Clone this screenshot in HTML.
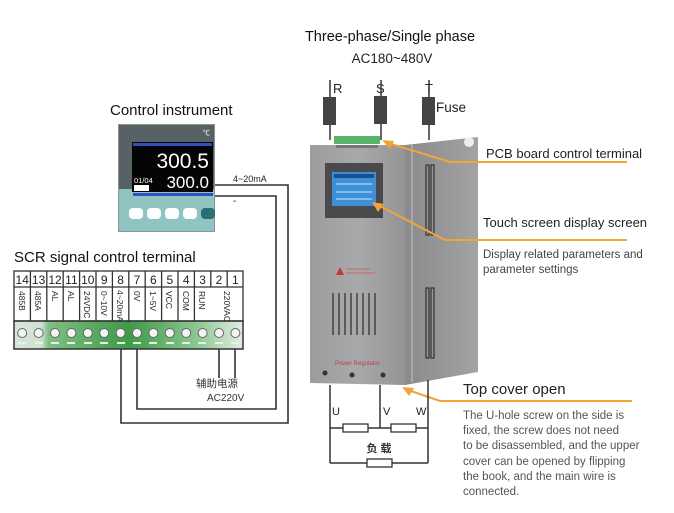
<!DOCTYPE html>
<html><head><meta charset="utf-8"><style>
html,body{margin:0;padding:0;background:#fff}
svg{display:block}
text{font-family:"Liberation Sans","Noto Sans CJK SC",sans-serif}
</style></head><body>
<svg width="674" height="513" viewBox="0 0 674 513" xmlns="http://www.w3.org/2000/svg">
<defs>
<linearGradient id="fr" x1="0" x2="1" y1="0" y2="0"><stop offset="0" stop-color="#9c9c9e"/><stop offset="0.5" stop-color="#a9a9ab"/><stop offset="1" stop-color="#949496"/></linearGradient>
<linearGradient id="sd" x1="0" x2="1"><stop offset="0" stop-color="#8a8a8c"/><stop offset="1" stop-color="#a3a3a5"/></linearGradient>
<linearGradient id="gr" x1="0" x2="1"><stop offset="0" stop-color="#d9e4da"/><stop offset="0.12" stop-color="#cfe0d0"/><stop offset="0.15" stop-color="#7fbe84"/><stop offset="0.5" stop-color="#3e9a48"/><stop offset="0.8" stop-color="#8cc792"/><stop offset="1" stop-color="#e2ece3"/></linearGradient>
</defs>

<!-- top titles -->
<text x="390" y="41" font-size="14.5" text-anchor="middle" fill="#111">Three-phase/Single phase</text>
<text x="392" y="63" font-size="13.5" text-anchor="middle" fill="#222">AC180~480V</text>
<text x="333" y="93" font-size="13" fill="#222">R</text>
<text x="376" y="93" font-size="13" fill="#222">S</text>
<text x="425" y="93" font-size="13" fill="#222">T</text>
<text x="436" y="112" font-size="13.5" fill="#222">Fuse</text>
<g stroke="#333" stroke-width="1.5">
<line x1="330" y1="80" x2="330" y2="140"/><line x1="381" y1="80" x2="381" y2="140"/><line x1="429" y1="80" x2="429" y2="140"/>
</g>
<rect x="323" y="97" width="13" height="28" fill="#444"/>
<rect x="374" y="96" width="13" height="28" fill="#444"/>
<rect x="422" y="97" width="13" height="28" fill="#444"/>

<!-- device side -->
<polygon points="405,145 478,137 478,372 405,385" fill="url(#sd)"/>
<circle cx="469" cy="142" r="5" fill="#eee"/>
<line x1="412" y1="144" x2="412" y2="382" stroke="#c5c5c7" stroke-width="1"/>
<g fill="none" stroke="#333" stroke-width="1.2">
<rect x="426" y="165" width="3" height="70"/><rect x="431" y="165" width="3" height="70"/>
<rect x="426" y="288" width="3" height="70"/><rect x="431" y="288" width="3" height="70"/>
</g>
<!-- front -->
<polygon points="310,145 405,145 405,385 310,383" fill="url(#fr)"/>
<rect x="334" y="136" width="46" height="8" fill="#5bb36a"/>
<rect x="336" y="145" width="42" height="3" fill="#777"/>
<rect x="325" y="163" width="58" height="55" fill="#4a4a4c"/>
<rect x="332" y="172" width="44" height="34" fill="#3d8fd8"/>
<rect x="334" y="174" width="40" height="4" fill="#1c4f8c"/>
<g stroke="#cfe6ff" stroke-width="1"><line x1="336" y1="184" x2="372" y2="184"/><line x1="336" y1="192" x2="372" y2="192"/><line x1="336" y1="199" x2="372" y2="199"/></g>
<polygon points="336,275 340,267 344,275" fill="#c33"/>
<g stroke="#c66" stroke-width="1"><line x1="346" y1="269" x2="370" y2="269"/><line x1="346" y1="273" x2="375" y2="273"/></g>
<g stroke="#333" stroke-width="1.3">
<line x1="333" y1="293" x2="333" y2="335"/><line x1="339" y1="293" x2="339" y2="335"/><line x1="345" y1="293" x2="345" y2="335"/><line x1="351" y1="293" x2="351" y2="335"/><line x1="357" y1="293" x2="357" y2="335"/><line x1="363" y1="293" x2="363" y2="335"/><line x1="369" y1="293" x2="369" y2="335"/><line x1="375" y1="293" x2="375" y2="335"/>
</g>
<text x="335" y="365" font-size="6" fill="#b44">Power Regulator</text>
<circle cx="325" cy="373" r="2.5" fill="#333"/><circle cx="352" cy="375" r="2.5" fill="#333"/><circle cx="383" cy="375" r="2.5" fill="#333"/>

<!-- orange callouts -->
<g fill="none" stroke="#f0a43a" stroke-width="2">
<polyline points="388,143 450,162 627,162"/>
<polyline points="378,205 445,240 627,240"/>
<polyline points="408,390 440,401 632,401"/>
</g>
<polygon points="382,140 394,141 390,149" fill="#f0a43a"/>
<polygon points="372,202 384,204 378,212" fill="#f0a43a"/>
<polygon points="402,387 414,388 409,396" fill="#f0a43a"/>
<text x="486" y="158" font-size="13" fill="#222">PCB board control terminal</text>
<text x="483" y="227" font-size="13" fill="#222">Touch screen display screen</text>
<text x="483" y="258" font-size="11.5" fill="#444">Display related parameters and</text>
<text x="483" y="273" font-size="11.5" fill="#444">parameter settings</text>
<text x="463" y="394" font-size="15" fill="#222">Top cover open</text>
<g font-size="11.5" fill="#555">
<text x="463" y="419">The U-hole screw on the side is</text>
<text x="463" y="434">fixed, the screw does not need</text>
<text x="463" y="449">to be disassembled, and the upper</text>
<text x="463" y="465">cover can be opened by flipping</text>
<text x="463" y="480">the book, and the main wire is</text>
<text x="463" y="495">connected.</text>
</g>

<!-- load circuit -->
<g stroke="#333" stroke-width="1.5" fill="none">
<line x1="330" y1="385" x2="330" y2="463"/>
<line x1="380" y1="385" x2="380" y2="428"/>
<line x1="428" y1="380" x2="428" y2="463"/>
<line x1="330" y1="428" x2="428" y2="428"/>
<line x1="330" y1="463" x2="428" y2="463"/>
</g>
<g stroke="#333" stroke-width="1.3" fill="#fff">
<rect x="343" y="424" width="25" height="8"/><rect x="391" y="424" width="25" height="8"/><rect x="367" y="459" width="25" height="8"/>
</g>
<text x="332" y="415" font-size="11" fill="#222">U</text>
<text x="383" y="415" font-size="11" fill="#222">V</text>
<text x="416" y="415" font-size="11" fill="#222">W</text>
<text x="379" y="452" font-size="11" font-weight="bold" text-anchor="middle" fill="#333">负 载</text>

<!-- control instrument -->
<text x="110" y="115" font-size="15" fill="#111">Control instrument</text>
<rect x="118" y="124" width="97" height="108" fill="#8a9496"/>
<rect x="119" y="125" width="95" height="64" fill="#586264"/>
<rect x="119" y="189" width="95" height="42" fill="#8fc4c0"/>
<text x="210" y="135" font-size="7" fill="#fff" text-anchor="end">℃</text>
<rect x="132" y="142" width="81" height="50" fill="#050505"/>
<rect x="133" y="143" width="79" height="3" fill="#3050c0"/>
<text x="209" y="168" font-size="21" fill="#fff" text-anchor="end">300.5</text>
<text x="209" y="188" font-size="17" fill="#fff" text-anchor="end">300.0</text>
<text x="134" y="183" font-size="7.5" fill="#fff">01/04</text>
<rect x="134" y="185" width="15" height="6" fill="#fff"/>
<rect x="133" y="193" width="80" height="3" fill="#3050c0"/>
<g fill="#fff">
<rect x="129" y="208" width="14" height="11" rx="4"/><rect x="147" y="208" width="14" height="11" rx="4"/><rect x="165" y="208" width="14" height="11" rx="4"/><rect x="183" y="208" width="14" height="11" rx="4"/>
</g>
<rect x="201" y="208" width="14" height="11" rx="4" fill="#2a6e76"/>
<text x="233" y="182" font-size="9" fill="#222">4~20mA</text>
<text x="233" y="204" font-size="10" fill="#222">-</text>

<!-- wires -->
<g stroke="#333" stroke-width="1.6" fill="none">
<polyline points="215,185 288,185 288,423 121,423 121,333"/>
<polyline points="215,196 276,196 276,409 137,409 137,333"/>
<line x1="219" y1="333" x2="219" y2="378"/>
<line x1="235" y1="333" x2="235" y2="378"/>
</g>

<!-- terminal block -->
<text x="14" y="262" font-size="15" fill="#111">SCR signal control terminal</text>
<rect x="14" y="321" width="229" height="28" fill="url(#gr)" stroke="#333" stroke-width="1.5"/>
<g fill="#f4f4f4" stroke="#666" stroke-width="1">
<circle cx="22.2" cy="333" r="4.5"/><circle cx="38.6" cy="333" r="4.5"/><circle cx="55" cy="333" r="4.5"/><circle cx="71.4" cy="333" r="4.5"/><circle cx="87.8" cy="333" r="4.5"/><circle cx="104.2" cy="333" r="4.5"/><circle cx="120.6" cy="333" r="4.5"/><circle cx="137" cy="333" r="4.5"/><circle cx="153.4" cy="333" r="4.5"/><circle cx="169.8" cy="333" r="4.5"/><circle cx="186.2" cy="333" r="4.5"/><circle cx="202.6" cy="333" r="4.5"/><circle cx="219" cy="333" r="4.5"/><circle cx="235.4" cy="333" r="4.5"/>
</g>
<g stroke="#e8f3e8" stroke-width="2">
<line x1="18" y1="343" x2="26" y2="343"/><line x1="35" y1="343" x2="43" y2="343"/><line x1="51" y1="343" x2="59" y2="343"/><line x1="67" y1="343" x2="75" y2="343"/><line x1="84" y1="343" x2="92" y2="343"/><line x1="100" y1="343" x2="108" y2="343"/><line x1="117" y1="343" x2="125" y2="343"/><line x1="133" y1="343" x2="141" y2="343"/><line x1="149" y1="343" x2="157" y2="343"/><line x1="166" y1="343" x2="174" y2="343"/><line x1="182" y1="343" x2="190" y2="343"/><line x1="198" y1="343" x2="206" y2="343"/><line x1="215" y1="343" x2="223" y2="343"/><line x1="231" y1="343" x2="239" y2="343"/>
</g>
<g fill="none" stroke="#333" stroke-width="1.3">
<rect x="14" y="271" width="229" height="50"/>
<line x1="14" y1="287" x2="243" y2="287"/>
<line x1="30.4" y1="271" x2="30.4" y2="321"/><line x1="46.8" y1="271" x2="46.8" y2="321"/><line x1="63.2" y1="271" x2="63.2" y2="321"/><line x1="79.6" y1="271" x2="79.6" y2="321"/><line x1="96" y1="271" x2="96" y2="321"/><line x1="112.4" y1="271" x2="112.4" y2="321"/><line x1="128.8" y1="271" x2="128.8" y2="321"/><line x1="145.2" y1="271" x2="145.2" y2="321"/><line x1="161.6" y1="271" x2="161.6" y2="321"/><line x1="178" y1="271" x2="178" y2="321"/><line x1="194.4" y1="271" x2="194.4" y2="321"/><line x1="210.8" y1="271" x2="210.8" y2="287"/><line x1="227.2" y1="271" x2="227.2" y2="287"/>
</g>
<g font-size="12" fill="#222" text-anchor="middle">
<text x="22.2" y="284">14</text><text x="38.6" y="284">13</text><text x="55" y="284">12</text><text x="71.4" y="284">11</text><text x="87.8" y="284">10</text><text x="104.2" y="284">9</text><text x="120.6" y="284">8</text><text x="137" y="284">7</text><text x="153.4" y="284">6</text><text x="169.8" y="284">5</text><text x="186.2" y="284">4</text><text x="202.6" y="284">3</text><text x="219" y="284">2</text><text x="235.4" y="284">1</text>
</g>
<g font-size="8.5" fill="#222">
<text transform="translate(19,291) rotate(90)">485B</text>
<text transform="translate(35,291) rotate(90)">485A</text>
<text transform="translate(52,291) rotate(90)">AL</text>
<text transform="translate(68,291) rotate(90)">AL</text>
<text transform="translate(84,291) rotate(90)">24VDC</text>
<text transform="translate(101,291) rotate(90)">0~10V</text>
<text transform="translate(117,290) rotate(90)">4~20mA</text>
<text transform="translate(134,291) rotate(90)">0V</text>
<text transform="translate(150,291) rotate(90)">1~5V</text>
<text transform="translate(166,291) rotate(90)">VCC</text>
<text transform="translate(183,291) rotate(90)">COM</text>
<text transform="translate(199,291) rotate(90)">RUN</text>
<text transform="translate(224,291) rotate(90)">220VAC</text>
</g>
<text x="196" y="387" font-size="10.5" fill="#333">辅助电源</text>
<text x="207" y="401" font-size="10" fill="#333">AC220V</text>
</svg>
</body></html>
